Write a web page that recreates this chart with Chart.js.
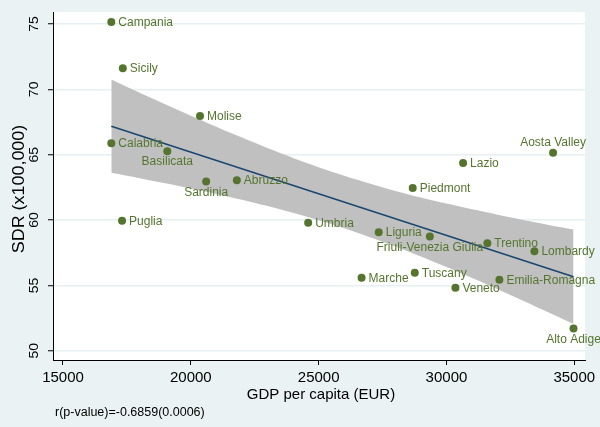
<!DOCTYPE html>
<html><head><meta charset="utf-8">
<script src="https://cdn.jsdelivr.net/npm/chart.js@4.4.1/dist/chart.umd.min.js"></script>
<style>html,body{margin:0;padding:0;background:#EAF2F3;overflow:hidden}#wrap{width:600px;height:427px;position:relative}</style>
</head><body><div id="wrap"><canvas id="c" width="600" height="427"></canvas></div>
<script>
const regions = ['Campania','Sicily','Molise','Calabria','Basilicata','Sardinia','Abruzzo','Puglia',
  'Aosta Valley','Lazio','Piedmont','Umbria','Liguria','Friuli-Venezia Giulia','Trentino','Lombardy',
  'Marche','Tuscany','Veneto','Emilia-Romagna','Alto Adige'];
const gdp = [16890,17340,20360,16890,19080,20600,21800,17310,
  34170,30650,28680,24590,27350,29350,31600,33440,
  26680,28760,30350,32070,34970];
const sdr = [75.15,71.61,67.97,65.88,65.27,62.95,63.05,59.94,
  65.14,64.37,62.46,59.79,59.07,58.75,58.23,57.62,
  55.58,55.96,54.82,55.43,51.71];
const fitX = [16890, 34970];
const fitY = [67.18, 55.66];
const bandX = [16890, 18000, 20000, 22000, 24000, 26000, 28000, 30000, 32000, 34000, 34970];
const bandUpper = [70.75, 69.74, 67.98, 66.31, 64.75, 63.39, 62.23, 61.26, 60.41, 59.63, 59.27];
const bandLower = [63.61, 63.20, 62.42, 61.55, 60.55, 59.37, 57.97, 56.40, 54.71, 52.93, 52.05];
const xTicks = [15000, 20000, 25000, 30000, 35000];
const yTicks = [50, 55, 60, 65, 70, 75];
const xTitle = 'GDP per capita (EUR)';
const yTitle = 'SDR (x100,000)';
const note = 'r(p-value)=-0.6859(0.0006)';

const labelBelow = ['Basilicata','Sardinia','Friuli-Venezia Giulia','Alto Adige'];
const labelAbove = ['Aosta Valley'];
const FONT = '"Liberation Sans", Arial, Helvetica, sans-serif';
const BG = '#EAF2F3';
const GREEN = '#55752F';

const bgPlugin = {
  id: 'bg',
  beforeDraw(chart) {
    const {ctx, chartArea: a} = chart;
    ctx.save();
    ctx.fillStyle = BG;
    ctx.fillRect(0, 0, chart.width, chart.height);
    ctx.fillStyle = '#FFFFFF';
    ctx.fillRect(a.left, a.top, a.right - a.left, a.bottom - a.top);
    ctx.restore();
  }
};

const textPlugin = {
  id: 'texts',
  afterDraw(chart) {
    const {ctx, scales: {x, y}, chartArea: a} = chart;
    ctx.save();
    // point labels
    ctx.fillStyle = GREEN;
    ctx.font = '12px ' + FONT;
    regions.forEach((r, i) => {
      const px = x.getPixelForValue(gdp[i]);
      const py = y.getPixelForValue(sdr[i]);
      if (labelBelow.includes(r)) {
        ctx.textAlign = 'center'; ctx.textBaseline = 'middle';
        ctx.fillText(r, px, py + 11);
      } else if (labelAbove.includes(r)) {
        ctx.textAlign = 'center'; ctx.textBaseline = 'middle';
        ctx.fillText(r, px, py - 10);
      } else {
        ctx.textAlign = 'left'; ctx.textBaseline = 'middle';
        ctx.fillText(r, px + 7, py + 0.5);
      }
    });
    // x tick labels
    ctx.fillStyle = '#000';
    ctx.font = '15px ' + FONT;
    ctx.textAlign = 'center'; ctx.textBaseline = 'alphabetic';
    xTicks.forEach(v => ctx.fillText(String(v), x.getPixelForValue(v), 382));
    // x title
    ctx.fillText(xTitle, (a.left + a.right) / 2 + 2, 398.5);
    // y tick labels (rotated)
    ctx.font = '13px ' + FONT;
    yTicks.forEach(v => {
      ctx.save();
      ctx.translate(38, y.getPixelForValue(v));
      ctx.rotate(-Math.PI / 2);
      ctx.scale(1.08, 1);
      ctx.textAlign = 'center'; ctx.textBaseline = 'alphabetic';
      ctx.fillText(String(v), 0, 0);
      ctx.restore();
    });
    // y title
    ctx.save();
    ctx.font = '16px ' + FONT;
    ctx.translate(24, 189);
    ctx.rotate(-Math.PI / 2);
    ctx.scale(1.12, 1);
    ctx.textAlign = 'center'; ctx.textBaseline = 'alphabetic';
    ctx.fillText(yTitle, 0, 0);
    ctx.restore();
    // note
    ctx.font = '12.5px ' + FONT;
    ctx.textAlign = 'left';
    ctx.fillText(note, 55, 416);
    ctx.restore();
  }
};

const pts = gdp.map((g, i) => ({x: g, y: sdr[i]}));
const upper = bandX.map((g, i) => ({x: g, y: bandUpper[i]}));
const lower = bandX.map((g, i) => ({x: g, y: bandLower[i]}));
const fit = fitX.map((g, i) => ({x: g, y: fitY[i]}));

new Chart(document.getElementById('c'), {
  type: 'scatter',
  data: {
    datasets: [
      {type: 'line', data: upper, borderWidth: 0, pointRadius: 0, fill: false, order: 4, tension: 0.3,
        borderColor: 'rgba(0,0,0,0)'},
      {type: 'line', data: lower, borderWidth: 0, pointRadius: 0, fill: '-1', order: 3, tension: 0.3,
        borderColor: 'rgba(0,0,0,0)', backgroundColor: 'rgb(192,192,192)'},
      {type: 'line', data: fit, borderWidth: 1.6, borderColor: '#1A476F', pointRadius: 0, fill: false, order: 2},
      {type: 'scatter', data: pts, pointRadius: 4, pointHoverRadius: 4, backgroundColor: GREEN,
        borderWidth: 0, order: 1}
    ]
  },
  options: {
    responsive: false,
    animation: false,
    devicePixelRatio: 1,
    layout: {padding: {left: 0, right: 15, top: 12, bottom: 0}},
    plugins: {legend: {display: false}, tooltip: {enabled: false}},
    scales: {
      x: {
        type: 'linear', position: 'bottom', min: 14609, max: 35419,
        afterBuildTicks: s => { s.ticks = xTicks.map(v => ({value: v})); },
        afterFit: s => { s.height = 67; },
        ticks: {display: false},
        grid: {drawOnChartArea: false, drawTicks: true, tickLength: 5, tickColor: '#000', tickWidth: 1},
        border: {display: true, color: '#000', width: 1}
      },
      y: {
        type: 'linear', position: 'left', min: 49.29, max: 75.92,
        afterBuildTicks: s => { s.ticks = yTicks.map(v => ({value: v})); },
        afterFit: s => { s.width = 53; },
        ticks: {display: false},
        grid: {drawOnChartArea: true, color: '#E6EFF1', lineWidth: 1.5, drawTicks: true, tickLength: 5,
          tickColor: '#000', tickWidth: 1},
        border: {display: true, color: '#000', width: 1}
      }
    }
  },
  plugins: [bgPlugin, textPlugin]
});
</script>
</body></html>
